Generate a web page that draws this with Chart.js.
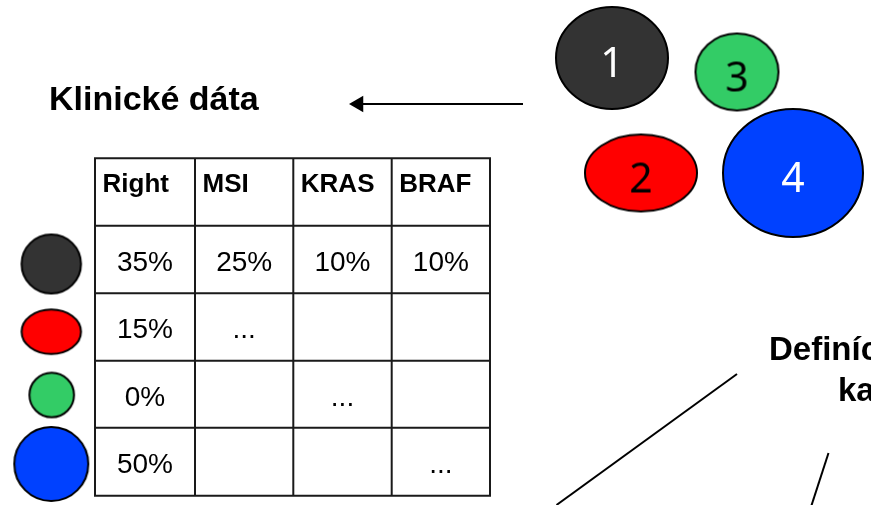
<!DOCTYPE html>
<html>
<head>
<meta charset="utf-8">
<script src="https://cdn.jsdelivr.net/npm/chart.js@4.4.1/dist/chart.umd.min.js"></script>
<style>
  html, body { margin: 0; padding: 0; background: #fff; overflow: hidden; }
  #wrap { width: 871px; height: 505px; }
</style>
</head>
<body>
<div id="wrap"><canvas id="c" width="871" height="505"></canvas></div>
<script>
// data
var clusterLabels = ['1', '2', '3', '4'];
var clusterColors = ['#333333', '#ff0000', '#33cc66', '#0041ff'];
var clusterTextColors = ['#ffffff', '#000000', '#000000', '#ffffff'];
var columnHeaders = ['Right', 'MSI', 'KRAS', 'BRAF'];
var rightValues = ['35%', '15%', '0%', '50%'];
var msiValues = ['25%', '...', '', ''];
var krasValues = ['10%', '', '...', ''];
var brafValues = ['10%', '', '', '...'];
var leftTitle = 'Klinické dáta';
var rightTitle = ['Definícia', 'kategórií'];

// layout (page coordinates, kept apart from the data)
var W = 871, H = 505;
var clusterPos = [
    {x: 612, y: 58, rx: 56, ry: 51},
    {x: 641, y: 173, rx: 56, ry: 38.5},
    {x: 737, y: 72, rx: 41.5, ry: 38.5},
    {x: 793, y: 173, rx: 70, ry: 64}
];
var legendPos = [
    {x: 51.3, y: 264, rx: 29.7, ry: 29.5},
    {x: 51.3, y: 331.7, rx: 29.7, ry: 22.3},
    {x: 51.7, y: 395, rx: 22.3, ry: 22.3},
    {x: 51.3, y: 464, rx: 37, ry: 37}
];
var colX = [95, 195, 293.3, 391.7, 490];
var rowY = [158.3, 225.7, 293.3, 360.7, 427.7, 495.7];

function ellipseImage(p, fill, label, textColor) {
    var cv = document.createElement('canvas');
    cv.width = Math.ceil(p.rx * 2 + 4);
    cv.height = Math.ceil(p.ry * 2 + 4);
    var g = cv.getContext('2d');
    g.beginPath();
    g.ellipse(cv.width / 2, cv.height / 2, p.rx, p.ry, 0, 0, Math.PI * 2);
    g.fillStyle = fill;
    g.fill();
    g.lineWidth = 2;
    g.strokeStyle = '#000';
    g.stroke();
    if (label) {
        g.fillStyle = textColor;
        g.font = '41px "Noto Sans", sans-serif';
        g.textAlign = 'center';
        g.textBaseline = 'alphabetic';
        g.fillText(label, cv.width / 2, cv.height / 2 + 19);
    }
    return cv;
}

var clusterImgs = clusterLabels.map(function (l, i) {
    return ellipseImage(clusterPos[i], clusterColors[i], l, clusterTextColors[i]);
});
var legendImgs = clusterLabels.map(function (l, i) {
    return ellipseImage(legendPos[i], clusterColors[i], '', '');
});

var tablePlugin = {
    id: 'tablePlugin',
    afterDatasetsDraw: function (chart) {
        var ctx = chart.ctx;
        var xs = chart.scales.x, ys = chart.scales.y;
        function px(v) { return xs.getPixelForValue(v); }
        function py(v) { return ys.getPixelForValue(v); }
        ctx.save();

        // grid
        ctx.strokeStyle = '#1a1a1a';
        ctx.lineWidth = 2;
        ctx.beginPath();
        colX.forEach(function (x) {
            ctx.moveTo(px(x), py(rowY[0]) - 1);
            ctx.lineTo(px(x), py(rowY[rowY.length - 1]) + 1);
        });
        rowY.forEach(function (y) {
            ctx.moveTo(px(colX[0]), py(y));
            ctx.lineTo(px(colX[colX.length - 1]), py(y));
        });
        ctx.stroke();

        // headers
        ctx.fillStyle = '#000';
        ctx.textBaseline = 'alphabetic';
        ctx.textAlign = 'left';
        ctx.font = 'bold 26px "Liberation Sans", Arial, sans-serif';
        columnHeaders.forEach(function (h, i) {
            ctx.fillText(h, px(colX[i]) + 7.5, py(rowY[0]) + 33.5);
        });

        // body
        var cols = [rightValues, msiValues, krasValues, brafValues];
        ctx.textAlign = 'center';
        ctx.font = '28px "Liberation Sans", Arial, sans-serif';
        cols.forEach(function (col, c) {
            col.forEach(function (v, r) {
                if (!v) return;
                var cx = (px(colX[c]) + px(colX[c + 1])) / 2;
                ctx.fillText(v, cx, py(rowY[r + 1]) + 45);
            });
        });

        // titles
        ctx.textAlign = 'left';
        ctx.font = 'bold 34px "Liberation Sans", Arial, sans-serif';
        ctx.fillText(leftTitle, px(49), py(110));
        ctx.font = 'bold 33px "Liberation Sans", Arial, sans-serif';
        ctx.fillText(rightTitle[0], px(769), py(360));
        ctx.fillText(rightTitle[1], px(838), py(401));
        ctx.restore();
    }
};

var lineStyle = {
    type: 'scatter', showLine: true, borderColor: '#000', borderWidth: 2,
    pointRadius: 0, fill: false, clip: false
};

new Chart(document.getElementById('c'), {
    type: 'bubble',
    data: {
        datasets: [
            {
                label: 'clusters',
                data: clusterPos.map(function (p) { return {x: p.x, y: p.y, r: p.ry}; }),
                pointStyle: clusterImgs,
                backgroundColor: clusterColors,
                clip: false
            },
            {
                label: 'legend',
                data: legendPos.map(function (p) { return {x: p.x, y: p.y, r: p.ry}; }),
                pointStyle: legendImgs,
                backgroundColor: clusterColors,
                clip: false
            },
            Object.assign({}, lineStyle, {
                label: 'arrow',
                data: [{x: 523, y: 104}, {x: 358.5, y: 104}],
                pointRadius: [0, 9.5],
                pointStyle: 'triangle',
                rotation: -90,
                pointBackgroundColor: '#000',
                pointBorderColor: '#000',
                pointBorderWidth: 0
            }),
            Object.assign({}, lineStyle, {
                label: 'link1',
                data: [{x: 737, y: 374}, {x: 556.5, y: 505}]
            }),
            Object.assign({}, lineStyle, {
                label: 'link2',
                data: [{x: 828.5, y: 453}, {x: 810, y: 510}]
            })
        ]
    },
    options: {
        responsive: false,
        animation: false,
        events: [],
        layout: {padding: 0, autoPadding: false},
        plugins: {legend: {display: false}, tooltip: {enabled: false}},
        scales: {
            x: {type: 'linear', min: 0, max: W, display: false},
            y: {type: 'linear', min: 0, max: H, reverse: true, display: false}
        }
    },
    plugins: [tablePlugin]
});
</script>
</body>
</html>
